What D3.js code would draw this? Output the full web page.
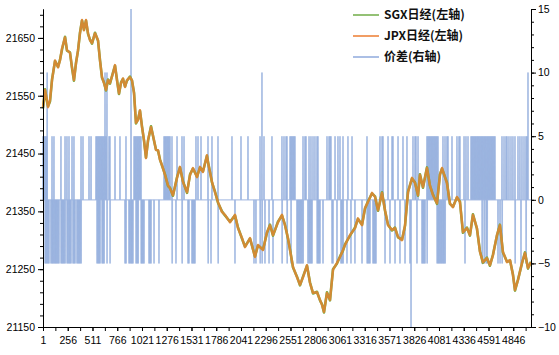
<!DOCTYPE html>
<html><head><meta charset="utf-8">
<script src="https://cdn.jsdelivr.net/npm/d3@7"></script>
<style>body{margin:0;background:#fff}svg{display:block}</style>
</head><body><svg id="c" width="559" height="355"></svg>
<script>
const N = 5029;
const xTickLabels = [1,256,511,766,1021,1276,1531,1786,2041,2296,2551,2806,3061,3316,3571,3826,4081,4336,4591,4846];
const leftTicks = [21150,21250,21350,21450,21550,21650];
const rightTicks = [-10,-5,0,5,10,15];
const seriesNames = ["SGX日经(左轴)","JPX日经(左轴)","价差(右轴)"];

const priceCats = [1,22,42,53,73,94,125,156,176,197,228,248,279,300,320,341,362,382,403,423,444,465,485,506,537,568,588,609,629,650,671,691,722,743,763,784,805,825,846,866,897,918,939,959,980,1000,1021,1042,1062,1083,1114,1145,1165,1186,1206,1227,1258,1289,1309,1340,1382,1412,1443,1485,1516,1546,1588,1619,1649,1690,1701,1742,1773,1804,1845,1876,1928,1979,2010,2051,2082,2134,2185,2216,2268,2309,2340,2371,2422,2463,2494,2525,2546,2577,2618,2649,2680,2721,2752,2783,2824,2855,2876,2896,2927,2958,2989,3030,3061,3092,3113,3164,3216,3246,3288,3319,3349,3391,3422,3453,3494,3525,3556,3597,3628,3659,3700,3731,3762,3803,3834,3865,3885,3916,3957,3988,4019,4060,4091,4112,4163,4194,4225,4266,4297,4328,4369,4400,4431,4472,4503,4534,4575,4606,4637,4678,4709,4740,4782,4813,4843,4864,4895,4936,4967,4998,5029];

const jpx = [21530,21560,21542,21530,21542,21577,21611,21599,21611,21632,21651,21629,21624,21599,21577,21606,21629,21658,21681,21663,21681,21658,21646,21641,21658,21646,21611,21582,21572,21560,21577,21572,21589,21603,21577,21554,21572,21580,21565,21577,21582,21577,21554,21503,21508,21525,21496,21473,21442,21473,21496,21473,21456,21456,21439,21430,21413,21395,21390,21378,21408,21427,21401,21383,21413,21425,21409,21427,21418,21447,21435,21401,21383,21366,21349,21344,21331,21344,21321,21304,21288,21304,21271,21292,21283,21314,21326,21309,21331,21344,21326,21304,21283,21254,21236,21223,21236,21257,21226,21209,21210,21197,21188,21176,21209,21197,21249,21261,21271,21283,21292,21309,21321,21338,21326,21356,21366,21382,21375,21352,21382,21352,21326,21318,21321,21306,21300,21326,21383,21408,21399,21378,21413,21392,21425,21395,21378,21364,21413,21425,21399,21364,21357,21375,21366,21314,21321,21309,21344,21321,21280,21262,21269,21257,21274,21309,21326,21280,21262,21266,21240,21214,21231,21261,21278,21252,21262];

const sgx = [21528,21561,21540,21532,21540,21578,21610,21600,21612,21630,21652,21628,21625,21598,21576,21607,21628,21659,21680,21664,21680,21657,21647,21640,21659,21645,21612,21581,21573,21559,21578,21571,21590,21602,21578,21553,21573,21579,21566,21576,21583,21576,21555,21502,21509,21524,21497,21472,21443,21472,21497,21472,21457,21455,21440,21429,21414,21394,21391,21377,21409,21426,21402,21382,21414,21424,21410,21426,21419,21446,21436,21400,21384,21365,21350,21343,21332,21343,21322,21303,21289,21303,21272,21291,21284,21313,21327,21308,21332,21343,21327,21303,21284,21253,21237,21222,21237,21256,21227,21208,21211,21196,21189,21175,21210,21196,21250,21260,21272,21282,21293,21308,21322,21337,21327,21355,21367,21381,21376,21351,21383,21351,21327,21317,21322,21305,21301,21325,21384,21407,21400,21377,21414,21391,21426,21394,21379,21363,21414,21424,21400,21363,21358,21374,21367,21313,21322,21308,21345,21320,21281,21261,21270,21256,21275,21308,21327,21279,21263,21265,21241,21213,21232,21260,21279,21251,21263];

const spreadUp5 = [1,11,22,32,42,94,114,186,228,248,269,300,320,393,413,475,496,547,557,568,578,588,599,609,619,630,650,681,691,743,794,856,939,949,959,970,980,990,1000,1011,1248,1258,1268,1279,1289,1299,1310,1330,1382,1433,1454,1577,1598,1629,1701,1742,1804,1948,2041,2113,2237,2278,2360,2463,2484,2505,2515,2546,2556,2566,2577,2587,2597,2680,2700,2711,2742,2762,2783,2803,2824,2834,2927,2948,2958,2968,3010,3040,3061,3092,3143,3185,3339,3473,3494,3504,3556,3597,3607,3659,3710,3751,3813,3834,3844,3865,3957,3968,3978,3988,3999,4009,4019,4030,4040,4050,4060,4071,4122,4143,4163,4174,4215,4266,4287,4297,4339,4359,4380,4411,4421,4431,4442,4452,4462,4473,4483,4493,4503,4514,4524,4534,4545,4555,4565,4576,4586,4596,4606,4617,4627,4637,4648,4658,4730,4751,4771,4782,4802,4823,4843,4864,4895,4915,4936,4957,4977,4988];

const spreadDown5 = [22,32,42,53,63,83,94,104,114,126,135,145,155,166,186,197,207,217,228,248,259,269,279,290,310,320,331,351,362,372,382,393,557,568,578,588,609,619,630,660,691,846,856,887,897,908,918,928,959,972,982,1013,1021,1031,1042,1093,1103,1114,1145,1196,1332,1371,1435,1495,1505,1536,1546,1557,1567,1703,1732,1806,1979,2175,2195,2239,2259,2288,2330,2371,2465,2517,2556,2618,2628,2639,2649,2659,2670,2682,2731,2744,2752,2764,2773,2826,2836,2845,2855,2886,2979,2989,3030,3071,3082,3094,3133,3174,3215,3288,3341,3350,3360,3370,3401,3411,3422,3432,3525,3576,3628,3679,3731,3782,3854,3906,3916,3926,3937,3959,4062,4073,4081,4091,4102,4112,4124,4133,4145,4349,4526,4547,4567,4578,4689,4710,4732,4866,4926,4979];

const spreadBigCats = [44,640,660,908,2257,3793,4998];
const spreadBigVals = [10,10,10,15,10,-10,10];

// ---- build spread series ----
const spread = new Array(N + 2).fill(0);
function place(c, v) { let i = c; while (spread[i] !== 0 && i < N) i++; spread[i] = v; }
spreadBigCats.forEach((c, k) => place(c, spreadBigVals[k]));
spreadUp5.forEach(c => place(c, 5));
spreadDown5.forEach(c => place(c, -5));
const spreadSeries = [];
for (let i = 1; i <= N; i++) spreadSeries.push({c: i, v: spread[i]});

const svg = d3.select("#c");
const L = 43, R = 531, T = 9, B = 327;
const x = d3.scaleLinear().domain([1, N]).range([L, R]);
const yL = d3.scaleLinear().domain([21150, 21700]).range([B, T]);
const yR = d3.scaleLinear().domain([-10, 15]).range([B, T]);

const FONT = "'Liberation Sans', Arial, sans-serif";

// spread (right axis)
const sLine = d3.line().x(d => x(d.c)).y(d => yR(d.v));
svg.append("path").datum(spreadSeries).attr("d", sLine)
  .attr("fill", "none").attr("stroke", "#8FAADC").attr("stroke-width", 1.3).attr("stroke-opacity", 0.7);
const spikes = spreadSeries.filter(d => d.v !== 0);
svg.append("g").selectAll("path").data(spikes).join("path")
  .attr("d", d => sLine([{c: d.c - 1, v: 0}, d, {c: d.c + 1, v: 0}]))
  .attr("fill", "none").attr("stroke", "#8FAADC").attr("stroke-width", 1.6).attr("stroke-opacity", 0.45);

// price lines (left axis)
const pLine = d3.line().x(d => x(d[0])).y(d => yL(d[1]));
svg.append("path").datum(priceCats.map((c, i) => [c, sgx[i]])).attr("d", pLine)
  .attr("fill", "none").attr("stroke", "#70AD47").attr("stroke-width", 2.6).attr("stroke-linejoin", "round");
svg.append("path").datum(priceCats.map((c, i) => [c, jpx[i]])).attr("d", pLine)
  .attr("fill", "none").attr("stroke", "#E8822F").attr("stroke-width", 2.4).attr("stroke-opacity", 0.82).attr("stroke-linejoin", "round");

// axes
const leftMinor = d3.range(21150, 21701, 20);
svg.append("g").attr("transform", `translate(${L},0)`)
  .call(d3.axisLeft(yL).tickValues(leftMinor).tickSize(3).tickSizeOuter(0).tickFormat(""));
svg.append("g").attr("transform", `translate(${L},0)`)
  .call(d3.axisLeft(yL).tickValues(leftTicks).tickSize(5).tickSizeOuter(0).tickFormat(d3.format("d")).tickPadding(3));

const rightMinor = d3.range(-10, 16, 1);
svg.append("g").attr("transform", `translate(${R},0)`)
  .call(d3.axisRight(yR).tickValues(rightMinor).tickSize(3).tickSizeOuter(0).tickFormat(""));
svg.append("g").attr("transform", `translate(${R},0)`)
  .call(d3.axisRight(yR).tickValues(rightTicks).tickSize(5).tickSizeOuter(0).tickFormat(d3.format("d")).tickPadding(2));

const xMinor = [];
xTickLabels.forEach(t => { xMinor.push(t); if (t + 127.5 <= N) xMinor.push(t + 127.5); });
svg.append("g").attr("transform", `translate(0,${B})`)
  .call(d3.axisBottom(x).tickValues(xMinor).tickSize(4).tickSizeOuter(0).tickFormat(""));
svg.append("g").attr("transform", `translate(0,${B})`)
  .call(d3.axisBottom(x).tickValues(xTickLabels).tickSize(4).tickSizeOuter(0).tickFormat(d3.format("d")).tickPadding(6));

svg.selectAll(".domain, .tick line").attr("stroke", "#000");
svg.selectAll(".tick text").attr("font-family", FONT).attr("font-size", 10.5).attr("fill", "#000");

// legend
const legColors = ["#70AD47", "#ED7D31", "#8FAADC"];
const legY = [15, 36, 57];
const lg = svg.append("g");
seriesNames.forEach((n, i) => {
  lg.append("line").attr("x1", 353).attr("x2", 379).attr("y1", legY[i]).attr("y2", legY[i])
    .attr("stroke", legColors[i]).attr("stroke-width", 1.5);
  lg.append("text").attr("x", 384).attr("y", legY[i]).attr("dy", "0.36em")
    .attr("font-family", "'Noto Sans CJK SC', sans-serif").attr("font-weight", "bold")
    .attr("font-size", 12).attr("fill", "#111").text(n);
});
</script></body></html>
